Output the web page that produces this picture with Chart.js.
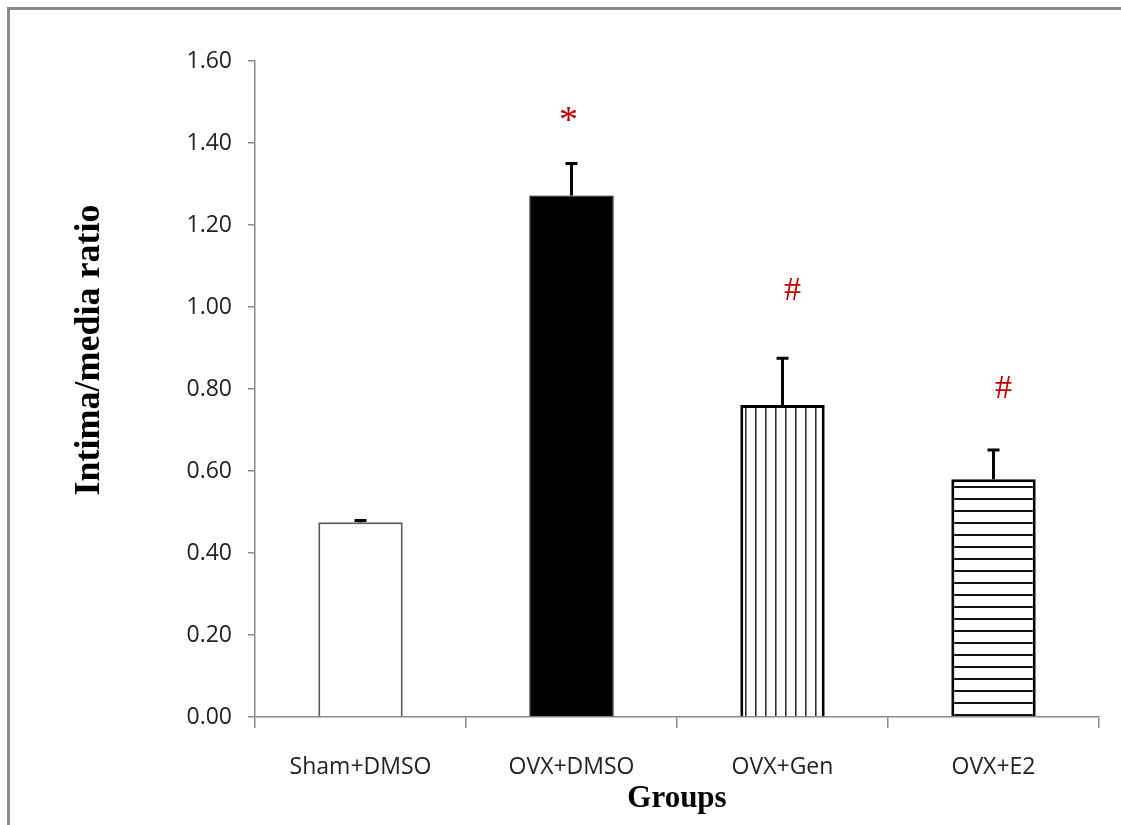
<!DOCTYPE html>
<html>
<head>
<meta charset="utf-8">
<script src="https://cdn.jsdelivr.net/npm/chart.js@4.4.1/dist/chart.umd.min.js"></script>
<style>
  html, body { margin: 0; padding: 0; background: #fff; }
  #wrap { width: 1121px; height: 825px; position: relative; }
</style>
</head>
<body>
<div id="wrap"><canvas id="chart" width="1121" height="825"></canvas></div>
<script>
/*************************************************
 * Data
 *************************************************/
const groups = ["Sham+DMSO", "OVX+DMSO", "OVX+Gen", "OVX+E2"];
const ratioMean = [0.475, 1.272, 0.761, 0.580];
const ratioErr = [0.004, 0.078, 0.114, 0.071];
const sigMarks = ["", "*", "#", "#"];
const sigLevel = [null, 1.47, 1.04, 0.80];
const yTicks = [0, 0.2, 0.4, 0.6, 0.8, 1.0, 1.2, 1.4, 1.6];
const yTitle = "Intima/media ratio";

/*************************************************
 * Hatch patterns for the bars
 *************************************************/
function makePattern(vertical) {
  const c = document.createElement("canvas");
  const size = vertical ? 10 : 12;
  c.width = size;
  c.height = size;
  const g = c.getContext("2d");
  g.fillStyle = "#fff";
  g.fillRect(0, 0, size, size);
  g.fillStyle = vertical ? "#333" : "#111";
  if (vertical) g.fillRect(5, 0, 1.6, size);
  else g.fillRect(0, 6, size, 2);
  return g.createPattern(c, "repeat");
}

const fills = ["#ffffff", "#000000", makePattern(true), makePattern(false)];
const borders = ["#5a5a5a", "#000000", "#000000", "#000000"];
const borderW = [2, 1, 3, 3];

/*************************************************
 * Plugins: frame + y title, error bars, significance marks
 *************************************************/
const framePlugin = {
  id: "frame",
  beforeDraw(chart) {
    const ctx = chart.ctx;
    ctx.save();
    ctx.strokeStyle = "#8a8a8a";
    ctx.lineWidth = 3;
    ctx.beginPath();
    ctx.moveTo(8.5, chart.height);
    ctx.lineTo(8.5, 8.5);
    ctx.lineTo(chart.width, 8.5);
    ctx.stroke();

    // y axis title (sits a bit above the middle of the axis)
    ctx.translate(90, 350);
    ctx.rotate(-Math.PI / 2);
    ctx.fillStyle = "#000";
    ctx.font = "bold 36px 'Liberation Serif'";
    ctx.textAlign = "center";
    ctx.textBaseline = "middle";
    ctx.fillText(yTitle, 0, 0);
    ctx.restore();
  }
};

const errorBarPlugin = {
  id: "errorBars",
  afterDatasetsDraw(chart) {
    const ctx = chart.ctx;
    const y = chart.scales.y;
    const meta = chart.getDatasetMeta(0);
    ctx.save();
    ctx.strokeStyle = "#000";
    ctx.lineWidth = 3;
    meta.data.forEach((bar, i) => {
      const yTop = y.getPixelForValue(ratioMean[i] + ratioErr[i]);
      const yBase = y.getPixelForValue(ratioMean[i]);
      ctx.beginPath();
      ctx.moveTo(bar.x, yBase);
      ctx.lineTo(bar.x, yTop);
      ctx.moveTo(bar.x - 6, yTop);
      ctx.lineTo(bar.x + 6, yTop);
      ctx.stroke();
    });

    // significance marks
    ctx.fillStyle = "#c00000";
    ctx.textAlign = "center";
    ctx.textBaseline = "middle";
    meta.data.forEach((bar, i) => {
      if (!sigMarks[i]) return;
      const star = sigMarks[i] === "*";
      ctx.font = star ? "38px 'Liberation Serif'" : "34px 'Liberation Serif'";
      ctx.fillText(sigMarks[i], bar.x + (star ? -3 : 10), y.getPixelForValue(sigLevel[i]) + (star ? 8 : 0));
    });
    ctx.restore();
  }
};

/*************************************************
 * Bar chart
 *************************************************/
const chart = new Chart(document.getElementById("chart"), {
  type: "bar",
  data: {
    labels: groups,
    datasets: [
      {
        label: yTitle,
        data: ratioMean,
        backgroundColor: fills,
        borderColor: borders,
        borderWidth: borderW,
        borderSkipped: "bottom",
        barPercentage: 0.4,
        categoryPercentage: 1.0
      }
    ]
  },
  options: {
    responsive: false,
    animation: false,
    layout: { padding: { top: 61, right: 22, left: 0, bottom: 0 } },
    plugins: {
      legend: { display: false },
      tooltip: { enabled: false }
    },
    scales: {
      x: {
        offset: true,
        grid: {
          offset: true,
          drawOnChartArea: false,
          drawTicks: true,
          tickLength: 11,
          color: "#8a8a8a",
          lineWidth: 1.5
        },
        border: { color: "#8a8a8a", width: 1.5 },
        ticks: {
          color: "#222",
          padding: 26,
          maxRotation: 0,
          font: { family: "'Open Sans'", size: 23 }
        },
        title: {
          display: true,
          text: "Groups",
          color: "#000",
          padding: { top: 0, bottom: 7 },
          font: { family: "'Liberation Serif'", size: 31, weight: "bold" }
        },
        afterFit(scale) { scale.height = 108; }
      },
      y: {
        min: 0,
        max: 1.6,
        afterBuildTicks(scale) {
          scale.ticks = yTicks.map(v => ({ value: v }));
        },
        grid: {
          drawOnChartArea: false,
          drawTicks: true,
          tickLength: 7,
          color: "#8a8a8a",
          lineWidth: 1.5
        },
        border: { color: "#8a8a8a", width: 1.5 },
        ticks: {
          color: "#222",
          padding: 16,
          font: { family: "'Open Sans'", size: 23 },
          callback: v => Number(v).toFixed(2)
        },
        afterFit(scale) { scale.width = 255; }
      }
    }
  },
  plugins: [framePlugin, errorBarPlugin]
});
</script>
</body>
</html>
